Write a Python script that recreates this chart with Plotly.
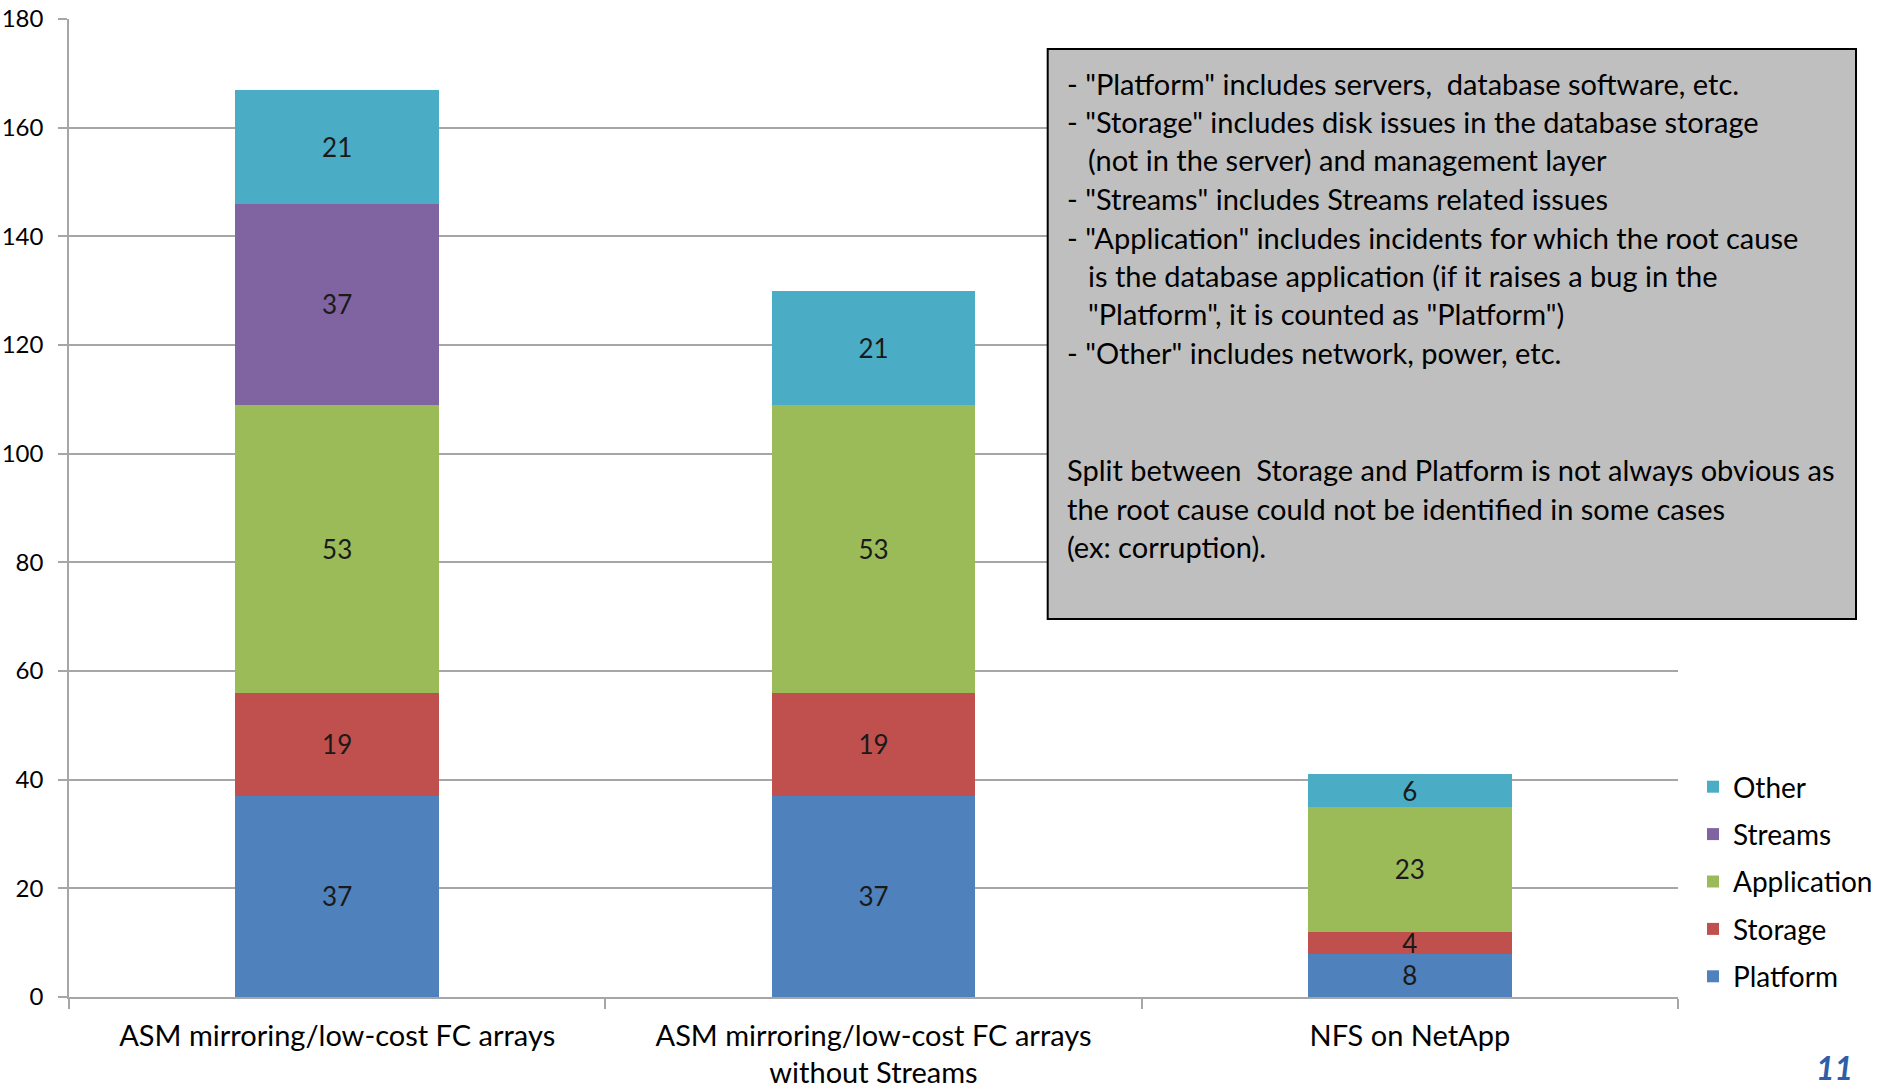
import plotly.graph_objects as go

categories = ["ASM mirroring/low-cost FC arrays",
              "ASM mirroring/low-cost FC arrays<br>without Streams",
              "NFS on NetApp"]
platform = [37, 37, 8]
storage = [19, 19, 4]
application = [53, 53, 23]
streams = [37, None, None]
other = [21, 21, 6]

series = [
    ("Platform", platform, "#4F81BD"),
    ("Storage", storage, "#C0504D"),
    ("Application", application, "#9BBB59"),
    ("Streams", streams, "#8064A2"),
    ("Other", other, "#4BACC6"),
]

FONT = "Lato, Carlito, 'Open Sans', sans-serif"

fig = go.Figure()
n = len(series)
for i, (name, vals, col) in enumerate(series):
    fig.add_trace(go.Bar(
        x=categories, y=vals, name=name,
        marker=dict(color=col, line=dict(width=0)),
        text=[str(v) if v is not None else "" for v in vals],
        textposition="inside", insidetextanchor="middle",
        textangle=0, constraintext="none",
        textfont=dict(family=FONT, size=26, color="#1a1a1a"),
        legendgroup=name, legendrank=n - i,
    ))

note_lines = [
    ('- "Platform" includes servers,  database software, etc.', 0),
    ('- "Storage" includes disk issues in the database storage', 0),
    ('(not in the server) and management layer', 1),
    ('- "Streams" includes Streams related issues', 0),
    ('- "Application" includes incidents for which the root cause', 0),
    ('is the database application (if it raises a bug in the', 1),
    ('"Platform", it is counted as "Platform")', 1),
    ('- "Other" includes network, power, etc.', 0),
    ('Split between  Storage and Platform is not always obvious as', 0),
    ('the root cause could not be identified in some cases', 0),
    ('(ex: corruption).', 0),
]
line_y_px = [83, 121.5, 160, 198.5, 237, 275.5, 314, 352.5, 469.5, 508, 546.5]

L, R, T, B = 69, 208, 19, 93
W, H = 1886, 1090
pw, ph = W - L - R, H - T - B

def px_x(x):
    return (x - L) / pw

def px_y(y):
    return (H - B - y) / ph

fig.add_shape(type="rect", xref="paper", yref="paper",
              x0=px_x(1047.7), x1=px_x(1856), y0=px_y(619), y1=px_y(49),
              fillcolor="#BFBFBF", line=dict(color="#000000", width=2), layer="above")

for (txt, ind), ypx in zip(note_lines, line_y_px):
    fig.add_annotation(xref="paper", yref="paper",
                       x=px_x(1065 + (21 if ind else 0)), y=px_y(ypx),
                       xanchor="left", yanchor="middle", showarrow=False,
                       text=txt, font=dict(family=FONT, size=29, color="#000000"))

fig.add_annotation(xref="paper", yref="paper", x=px_x(1834), y=px_y(1089),
                   xanchor="center", yanchor="bottom", showarrow=False,
                   text="<b><i>11</i></b>", font=dict(family=FONT, size=32, color="#2E5EAA"))

fig.update_layout(
    width=W, height=H,
    margin=dict(l=L, r=R, t=T, b=B, pad=0, autoexpand=False),
    barmode="stack", bargap=0.62,
    plot_bgcolor="white", paper_bgcolor="white",
    font=dict(family=FONT, color="#000000"),
    showlegend=True,
    legend=dict(x=px_x(1693), y=px_y(762), xanchor="left", yanchor="top",
                traceorder="grouped", tracegroupgap=8,
                font=dict(family=FONT, size=28, color="#000000"),
                bgcolor="rgba(0,0,0,0)", itemwidth=30),
    xaxis=dict(type="category", showgrid=False, showline=True, linecolor="#A6A6A6", linewidth=1.5,
               automargin=False,
               ticks="outside", tickson="boundaries", ticklen=10, tickcolor="#A6A6A6", tickwidth=1.5,
               tickfont=dict(family=FONT, size=29, color="#000000"), ticklabelstandoff=12),
    yaxis=dict(range=[0, 180], dtick=20, showgrid=True, gridcolor="#A6A6A6", gridwidth=1.5,
               automargin=False,
               showline=True, linecolor="#A6A6A6", linewidth=1.5, zeroline=False,
               ticks="outside", ticklen=9, tickcolor="#A6A6A6", tickwidth=1.5,
               tickfont=dict(family=FONT, size=24, color="#000000"), ticklabelstandoff=10),
)

fig.write_html("out.html")
